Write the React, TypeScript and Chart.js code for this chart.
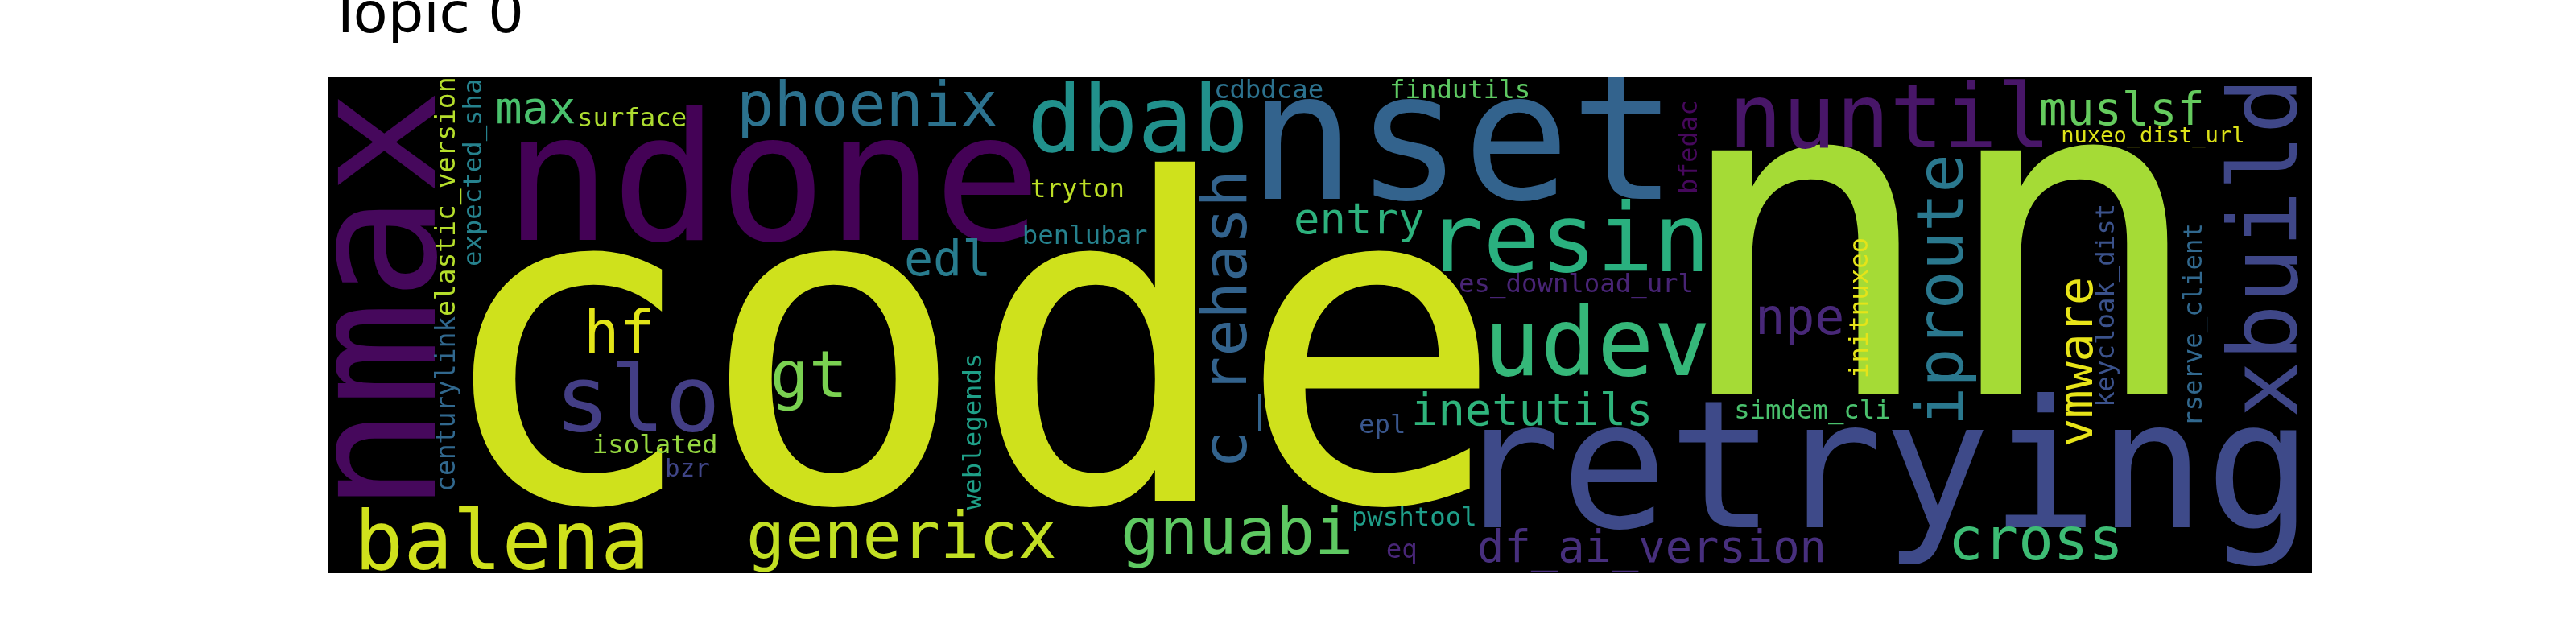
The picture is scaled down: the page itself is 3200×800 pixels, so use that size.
import { useEffect, useRef } from "react";
import { Chart, registerables } from "chart.js";

Chart.register(...registerables);

// word cloud laid out on an 800 x 200 grid (y grows downwards)
const words = [
  "code", "nn", "ndone", "nset", "retrying", "nmax", "dbab", "nuntil", "resin", "udev",
  "xbuild", "slo", "balena", "iproute", "gt", "genericx", "gnuabi", "phoenix", "c_rehash", "hf",
  "cross", "edl", "npe", "vmware", "muslsf", "max", "inetutils", "df_ai_version", "entry", "elastic_version",
  "centurylink", "expected_sha", "surface", "isolated", "bzr", "weblegends", "tryton", "benlubar", "cdbdcae", "findutils",
  "bfedac", "es_download_url", "epl", "pwshtool", "eq", "simdem_cli", "initnuxeo", "keycloak_dist", "rserve_client", "nuxeo_dist_url",
];

// font size of each word, in grid units
const weights = [
  180, 180, 72, 72, 72, 71, 37, 36, 38, 38,
  38, 37, 33, 26, 26, 26, 26, 25, 25, 24,
  23.5, 19.5, 20, 19, 18.5, 18, 18, 18, 17.5, 10.7,
  10.7, 10.5, 10.5, 10.5, 10, 10.5, 10.5, 10.5, 10.5, 10.5,
  10.5, 10.5, 10.5, 10.5, 10.5, 10.5, 10.5, 10.5, 10.5, 8.8,
];

// start of each word's ink (left edge, or bottom edge when vertical) on its baseline
const posX = [
  58.1, 557.8, 77.6, 377.6, 466.2, 42.9, 283.8, 567.9, 449.4, 469.5,
  793.8, 94.8, 13.3, 659.1, 179.5, 169.8, 320.8, 166.9, 370.1, 105.2,
  655.2, 233.1, 577.0, 711.4, 690.9, 67.9, 438.0, 464.3, 390.3, 51.0,
  51.0, 61.7, 101.3, 107.1, 136.4, 263.3, 283.8, 280.8, 358.1, 428.9,
  551.9, 456.2, 415.9, 413.6, 426.9, 567.9, 620.8, 720.1, 755.5, 699.4,
];
const posY = [
  170.8, 127.9, 65.6, 49.0, 181.5, 169.2, 29.9, 28.2, 78.2, 120.1,
  136.0, 142.5, 198.4, 138.6, 128.9, 193.8, 192.2, 19.5, 155.5, 111.4,
  194.5, 79.9, 103.6, 148.4, 19.2, 18.5, 140.3, 195.5, 63.0, 96.1,
  166.2, 76.0, 19.8, 151.6, 161.0, 174.4, 48.4, 67.2, 8.4, 8.4,
  46.1, 86.7, 143.5, 180.8, 193.8, 137.7, 120.8, 132.1, 139.3, 26.3,
];
const vertical = [
  false, false, false, false, false, true, false, false, false, false,
  true, false, false, true, false, false, false, false, true, false,
  false, false, false, true, false, false, false, false, false, true,
  true, true, false, false, false, true, false, false, false, false,
  true, false, false, false, false, false, true, true, true, false,
];

const colors = [
  "#cfe11c", "#a5db36", "#440256", "#33638d", "#3e4a89", "#46085c", "#21918c", "#481668", "#2ab07f", "#35b779",
  "#3f4788", "#433e85", "#d0e11c", "#2a788e", "#7ad151", "#c2df23", "#5ec962", "#2c728e", "#33638d", "#e2e418",
  "#3dbc74", "#287c8e", "#482878", "#e7e419", "#65cb5e", "#4ac16d", "#2fb47c", "#472f7d", "#2db27d", "#b5de2b",
  "#31688e", "#26828e", "#addc30", "#95d840", "#404688", "#1fa088", "#bddf26", "#26828e", "#2c728e", "#5ec962",
  "#46085c", "#482475", "#39568c", "#1f9e89", "#482677", "#4ac16d", "#e5e419", "#3b528b", "#31688e", "#dde318",
];

const title = "Topic 0";

const cloudPlugin = {
  id: "wordCloud",
  beforeDraw(chart: any) {
    const { ctx, chartArea } = chart;
    ctx.save();
    ctx.fillStyle = "#000000";
    ctx.fillRect(chartArea.left, chartArea.top, chartArea.width, chartArea.height);
    ctx.restore();
  },
  afterDatasetsDraw(chart: any) {
    const { ctx, chartArea } = chart;
    const xScale = chart.scales.x;
    const unit = Math.abs(xScale.getPixelForValue(1) - xScale.getPixelForValue(0));
    const meta = chart.getDatasetMeta(0);

    ctx.save();
    ctx.beginPath();
    ctx.rect(chartArea.left, chartArea.top, chartArea.width, chartArea.height);
    ctx.clip();
    ctx.textAlign = "left";
    ctx.textBaseline = "alphabetic";
    meta.data.forEach((pt: any, i: number) => {
      ctx.font = `${weights[i] * unit}px "DejaVu Sans Mono"`;
      const m = ctx.measureText(words[i]);
      ctx.fillStyle = colors[i];
      ctx.save();
      ctx.translate(pt.x, pt.y);
      if (vertical[i]) ctx.rotate(-Math.PI / 2);
      ctx.fillText(words[i], m.actualBoundingBoxLeft, 0);
      ctx.restore();
    });
    ctx.restore();

    ctx.save();
    ctx.fillStyle = "#000000";
    ctx.font = '70px "DejaVu Sans"';
    ctx.textAlign = "left";
    ctx.textBaseline = "alphabetic";
    ctx.fillText(title, chartArea.left, chartArea.top - 56);
    ctx.restore();
  },
};

export default function App() {
  const canvasRef = useRef<HTMLCanvasElement>(null);

  useEffect(() => {
    if (!canvasRef.current) return;
    const chart = new Chart(canvasRef.current, {
      type: "scatter",
      data: {
        datasets: [
          {
            label: title,
            data: words.map((_, i) => ({ x: posX[i], y: posY[i] })),
            pointRadius: 0,
            pointHoverRadius: 0,
          },
        ],
      },
      options: {
        animation: false,
        responsive: true,
        maintainAspectRatio: false,
        events: [],
        layout: { padding: { left: 408, right: 328, top: 96, bottom: 88 } },
        scales: {
          x: { type: "linear", min: 0, max: 800, display: false },
          y: { type: "linear", min: 0, max: 200, reverse: true, display: false },
        },
        plugins: {
          legend: { display: false },
          title: { display: false },
          tooltip: { enabled: false },
        },
      },
      plugins: [cloudPlugin],
    });
    return () => chart.destroy();
  }, []);

  return (
    <div style={{ position: "absolute", left: 0, top: 0, width: 3200, height: 800, background: "#ffffff" }}>
      <canvas ref={canvasRef} />
    </div>
  );
}
